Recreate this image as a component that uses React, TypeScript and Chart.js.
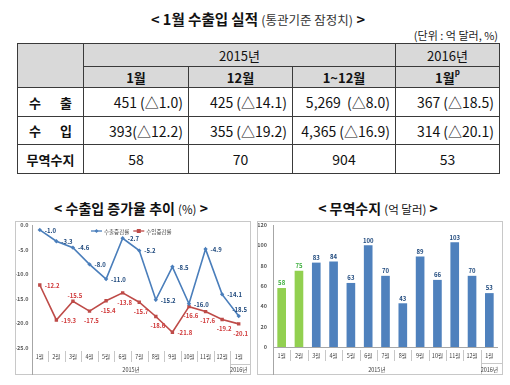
import React, { useEffect, useRef } from 'react';
import { Chart, registerables } from 'chart.js';

Chart.register(...registerables);

const FONT = '"Noto Sans CJK KR", "Noto Sans", sans-serif';

// ---------- table text ----------
const tableTitleBold = '1월 수출입 실적';
const tableTitleNote = '(통관기준 잠정치)';
const unitNote = '(단위 : 억 달러, %)';
const yearHeaders = ['2015년', '2016년'];
const periodHeaders = ['1월', '12월', '1~12월', '1월'];
const rowLabels = ['수출', '수입', '무역수지'];
const exportCells = ['451 (△1.0)', '425 (△14.1)', '5,269  (△8.0)', '367 (△18.5)'];
const importCells = ['393(△12.2)', '355 (△19.2)', '4,365 (△16.9)', '314 (△20.1)'];
const balanceCells = ['58', '70', '904', '53'];

// ---------- chart data ----------
const monthLabels = ['1월', '2월', '3월', '4월', '5월', '6월', '7월', '8월', '9월', '10월', '11월', '12월', '1월'];
const yearGroups = ['2015년', '2016년'];
const yearSpans = [12, 1];
const seriesNames = ['수출증감률', '수입증감률'];
const exportGrowth = [-1.0, -3.3, -4.6, -8.0, -11.0, -2.7, -5.2, -15.2, -8.5, -16.0, -4.9, -14.1, -18.5];
const importGrowth = [-12.2, -19.3, -15.5, -17.5, -15.4, -13.8, -15.7, -18.6, -21.8, -16.6, -17.6, -19.2, -20.1];
const growthMin = -25;
const growthMax = 0;
const growthStep = 5;
const tradeBalance = [58, 75, 83, 84, 63, 100, 70, 43, 89, 66, 103, 70, 53];
const balanceMin = 0;
const balanceMax = 120;
const balanceStep = 20;

// label placement (style, not data)
const exportLabelSide = ['r', 'r', 'r', 'r', 'r', 'r', 'r', 'r', 'r', 'r', 'r', 'r', 'ur'];
const importLabelSide = ['r', 'r', 'a', 'b', 'b', 'b', 'b', 'b', 'r', 'b', 'b', 'b', 'b'];

const EXPORT_COLOR = '#4A7EBB';
const IMPORT_COLOR = '#BE4B48';
const EXPORT_LABEL = '#1F497D';
const IMPORT_LABEL = '#D0393A';
const BAR_BLUE = '#4F81BD';
const BAR_GREEN = '#92D050';
const FRAME = '#C8C8C8';
const AXIS = '#A6A6A6';
const HEADER_BG = '#D9D9D9';
const GRID_LINE = '#3A3A3A';

function drawCategoryDecor(chart: any, drawZeroLine: boolean) {
  const { ctx, chartArea, scales } = chart;
  const x = scales.x;
  const W = chart.width;
  const H = chart.height;
  ctx.save();
  ctx.lineWidth = 1;
  ctx.strokeStyle = FRAME;
  ctx.strokeRect(0.5, 0.5, W - 1, H - 1);
  ctx.strokeStyle = AXIS;
  const ax = Math.round(chartArea.left) + 0.5;
  ctx.beginPath();
  ctx.moveTo(ax, chartArea.top);
  ctx.lineTo(ax, H);
  ctx.stroke();
  if (drawZeroLine) {
    const zy = Math.round(chartArea.bottom) + 0.5;
    ctx.beginPath();
    ctx.moveTo(chartArea.left, zy);
    ctx.lineTo(chartArea.right, zy);
    ctx.stroke();
  }
  const n = monthLabels.length;
  const groupEnds: number[] = [];
  let acc = 0;
  yearSpans.forEach((s) => { acc += s; groupEnds.push(acc); });
  ctx.strokeStyle = '#C8C8C8';
  for (let i = 1; i < n; i++) {
    const bx = Math.round((x.getPixelForValue(i - 1) + x.getPixelForValue(i)) / 2) + 0.5;
    const isGroup = groupEnds.includes(i);
    ctx.beginPath();
    ctx.moveTo(bx, chartArea.bottom + 3);
    ctx.lineTo(bx, isGroup ? H : chartArea.bottom + 14);
    ctx.stroke();
    if (isGroup) {
      ctx.beginPath();
      ctx.moveTo(bx, chartArea.bottom + 16.5);
      ctx.lineTo(W, chartArea.bottom + 16.5);
      ctx.stroke();
    }
  }
  ctx.fillStyle = '#404040';
  ctx.font = `5.5px ${FONT}`;
  ctx.textAlign = 'center';
  ctx.textBaseline = 'middle';
  let start = 0;
  yearGroups.forEach((g, gi) => {
    const end = start + yearSpans[gi] - 1;
    const cx = (x.getPixelForValue(start) + x.getPixelForValue(end)) / 2;
    ctx.fillText(g, cx, H - 5);
    start = end + 1;
  });
  ctx.restore();
}

const lineDecor = {
  id: 'lineDecor',
  afterDraw(chart: any) {
    drawCategoryDecor(chart, false);
    const { ctx } = chart;
    ctx.save();
    ctx.font = `bold 6px ${FONT}`;
    ctx.textBaseline = 'middle';
    const sides = [exportLabelSide, importLabelSide];
    const colors = [EXPORT_LABEL, IMPORT_LABEL];
    chart.data.datasets.forEach((ds: any, di: number) => {
      const meta = chart.getDatasetMeta(di);
      ctx.fillStyle = colors[di];
      meta.data.forEach((pt: any, i: number) => {
        const txt = Number(ds.data[i]).toFixed(1);
        const side = sides[di][i];
        if (side === 'r') {
          ctx.textAlign = 'left';
          ctx.fillText(txt, pt.x + 5, pt.y + 0.5);
        } else if (side === 'ur') {
          ctx.textAlign = 'center';
          ctx.fillText(txt, pt.x + 1, pt.y - 6);
        } else if (side === 'a') {
          ctx.textAlign = 'center';
          ctx.fillText(txt, pt.x + 2, pt.y - 5.5);
        } else {
          ctx.textAlign = 'center';
          ctx.fillText(txt, pt.x + 2, pt.y + 9.5);
        }
      });
    });
    const items = [
      { name: seriesNames[0], color: EXPORT_COLOR, style: 'diamond' },
      { name: seriesNames[1], color: IMPORT_COLOR, style: 'square' },
    ];
    let lx = 76;
    const ly = 10;
    ctx.font = `5.5px ${FONT}`;
    ctx.textAlign = 'left';
    items.forEach((it) => {
      ctx.strokeStyle = it.color;
      ctx.fillStyle = it.color;
      ctx.lineWidth = 1.3;
      ctx.beginPath();
      ctx.moveTo(lx, ly);
      ctx.lineTo(lx + 11, ly);
      ctx.stroke();
      const mx = lx + 5.5;
      if (it.style === 'diamond') {
        ctx.beginPath();
        ctx.moveTo(mx, ly - 2);
        ctx.lineTo(mx + 2, ly);
        ctx.lineTo(mx, ly + 2);
        ctx.lineTo(mx - 2, ly);
        ctx.closePath();
        ctx.fill();
      } else {
        ctx.fillRect(mx - 2, ly - 2, 4, 4);
      }
      ctx.fillStyle = '#404040';
      ctx.fillText(it.name, lx + 13, ly + 0.5);
      lx += 13 + ctx.measureText(it.name).width + 4;
    });
    ctx.restore();
  },
};

const barDecor = {
  id: 'barDecor',
  afterDraw(chart: any) {
    drawCategoryDecor(chart, true);
    const { ctx } = chart;
    ctx.save();
    ctx.font = `bold 6px ${FONT}`;
    ctx.textAlign = 'center';
    ctx.textBaseline = 'middle';
    const meta = chart.getDatasetMeta(0);
    meta.data.forEach((bar: any, i: number) => {
      ctx.fillStyle = i < 2 ? '#3FB03F' : EXPORT_LABEL;
      ctx.fillText(String(tradeBalance[i]), bar.x, bar.y - 5);
    });
    ctx.restore();
  },
};

function Cell(props: {
  x0: number; x1: number; y0: number; y1: number; bg?: string; align?: string;
  bold?: boolean; size?: number; children?: any; pr?: number; ls?: number;
}) {
  const { x0, x1, y0, y1, bg, align, bold, size, children, pr, ls } = props;
  return (
    <div
      style={{
        position: 'absolute', left: x0, top: y0, width: x1 - x0 + 1, height: y1 - y0 + 1,
        boxSizing: 'border-box', border: `1px solid ${GRID_LINE}`, background: bg || '#fff',
        display: 'flex', alignItems: 'center',
        justifyContent: align === 'right' ? 'flex-end' : 'center',
        paddingRight: pr || 0, fontSize: size || 14, fontWeight: bold ? 700 : 400,
        whiteSpace: 'pre', color: '#111', letterSpacing: ls ? ls : 0,
        paddingLeft: ls ? ls : 0, lineHeight: 1,
      }}
    >
      {children}
    </div>
  );
}

export default function App() {
  const leftRef = useRef<HTMLCanvasElement>(null);
  const rightRef = useRef<HTMLCanvasElement>(null);

  useEffect(() => {
    const tickFont = { size: 5.5, family: FONT };
    const left = new Chart(leftRef.current as HTMLCanvasElement, {
      type: 'line',
      data: {
        labels: monthLabels,
        datasets: [
          {
            label: seriesNames[0], data: exportGrowth, borderColor: EXPORT_COLOR,
            backgroundColor: EXPORT_COLOR, borderWidth: 1.6, pointStyle: 'rectRot',
            pointRadius: 2.2, pointBorderWidth: 0, tension: 0,
          },
          {
            label: seriesNames[1], data: importGrowth, borderColor: IMPORT_COLOR,
            backgroundColor: IMPORT_COLOR, borderWidth: 1.6, pointStyle: 'rect',
            pointRadius: 2.4, pointBorderWidth: 0, tension: 0,
          },
        ],
      },
      options: {
        animation: false,
        responsive: false,
        layout: { padding: { top: 4, right: 0, bottom: 0, left: 0 } },
        plugins: { legend: { display: false }, tooltip: { enabled: false } },
        scales: {
          x: {
            offset: true,
            grid: { display: false, drawTicks: false },
            border: { display: false },
            ticks: { font: tickFont, color: '#404040', padding: 6, maxRotation: 0, autoSkip: false },
            afterFit: (s: any) => { s.height = 27; s.paddingLeft = 0; s.paddingRight = 0; },
          },
          y: {
            min: growthMin, max: growthMax,
            grid: { display: false, drawTicks: false },
            border: { display: false },
            ticks: {
              stepSize: growthStep, font: { ...tickFont, weight: 'bold' }, color: '#595959', padding: 3,
              callback: (v: any) => Number(v).toFixed(1),
            },
            afterFit: (s: any) => { s.width = 16.5; s.paddingTop = 0; s.paddingBottom = 0; },
          },
        },
      } as any,
      plugins: [lineDecor],
    });

    const right = new Chart(rightRef.current as HTMLCanvasElement, {
      type: 'bar',
      data: {
        labels: monthLabels,
        datasets: [
          {
            label: '무역수지', data: tradeBalance,
            backgroundColor: tradeBalance.map((_, i) => (i < 2 ? BAR_GREEN : BAR_BLUE)),
            categoryPercentage: 1, barPercentage: 0.5, borderWidth: 0,
          },
        ],
      },
      options: {
        animation: false,
        responsive: false,
        layout: { padding: { top: 4, right: 5, bottom: 0, left: 0 } },
        plugins: { legend: { display: false }, tooltip: { enabled: false } },
        scales: {
          x: {
            grid: { display: false, drawTicks: false },
            border: { display: false },
            ticks: { font: tickFont, color: '#404040', padding: 6, maxRotation: 0, autoSkip: false },
            afterFit: (s: any) => { s.height = 28; s.paddingLeft = 0; s.paddingRight = 0; },
          },
          y: {
            min: balanceMin, max: balanceMax,
            grid: { display: false, drawTicks: false },
            border: { display: false },
            ticks: { stepSize: balanceStep, font: { ...tickFont, weight: 'bold' }, color: '#595959', padding: 6 },
            afterFit: (s: any) => { s.width = 16; s.paddingTop = 0; s.paddingBottom = 0; },
          },
        },
      } as any,
      plugins: [barDecor],
    });

    return () => {
      left.destroy();
      right.destroy();
    };
  }, []);

  const cols = [17, 83, 188, 292, 395, 499];
  const rows = [43, 66, 87, 116, 144, 173];
  const dataRows = [exportCells, importCells, balanceCells];

  return (
    <div
      style={{
        position: 'absolute', left: 0, top: 0, width: 510, height: 385, background: '#fff',
        fontFamily: FONT, overflow: 'hidden', color: '#111',
      }}
    >
      <div style={{ position: 'absolute', left: 0, top: 8, width: 516, textAlign: 'center', lineHeight: '20px', whiteSpace: 'pre' }}>
        <span style={{ fontSize: 14.5, fontWeight: 700 }}>{'< ' + tableTitleBold + ' '}</span>
        <span style={{ fontSize: 12.5, color: '#333' }}>{tableTitleNote}</span>
        <span style={{ fontSize: 14.5, fontWeight: 700 }}>{' >'}</span>
      </div>
      <div style={{ position: 'absolute', right: 12, top: 28, fontSize: 11, lineHeight: '14px', color: '#222', whiteSpace: 'pre' }}>
        {unitNote}
      </div>

      <Cell x0={cols[0]} x1={cols[1]} y0={rows[0]} y1={rows[2]} bg={HEADER_BG} />
      <Cell x0={cols[1]} x1={cols[4]} y0={rows[0]} y1={rows[1]} bg={HEADER_BG} size={13}>{yearHeaders[0]}</Cell>
      <Cell x0={cols[4]} x1={cols[5]} y0={rows[0]} y1={rows[1]} bg={HEADER_BG} size={13}>{yearHeaders[1]}</Cell>
      {periodHeaders.map((p, i) => (
        <Cell key={'p' + i} x0={cols[i + 1]} x1={cols[i + 2]} y0={rows[1]} y1={rows[2]} bg={HEADER_BG} size={13} bold>
          {i === 3 ? (
            <span>{p}<sup style={{ fontSize: 8, verticalAlign: 'top', position: 'relative', top: -3 }}>p</sup></span>
          ) : p}
        </Cell>
      ))}
      {rowLabels.map((r, ri) => (
        <Cell key={'r' + ri} x0={cols[0]} x1={cols[1]} y0={rows[ri + 2]} y1={rows[ri + 3]} size={13} bold ls={r.length === 2 ? 19 : 0}>
          {r}
        </Cell>
      ))}
      {dataRows.map((vals, ri) =>
        vals.map((v, ci) => (
          <Cell
            key={'v' + ri + '-' + ci}
            x0={cols[ci + 1]} x1={cols[ci + 2]} y0={rows[ri + 2]} y1={rows[ri + 3]}
            size={14} align={ri < 2 ? 'right' : 'center'} pr={ri < 2 ? 5 : 0}
          >
            {v}
          </Cell>
        ))
      )}

      <div style={{ position: 'absolute', left: 0, top: 198, width: 262, textAlign: 'center', lineHeight: '18px', whiteSpace: 'pre' }}>
        <span style={{ fontSize: 14, fontWeight: 700 }}>{'< 수출입 증가율 추이 '}</span>
        <span style={{ fontSize: 11.5 }}>(%)</span>
        <span style={{ fontSize: 14, fontWeight: 700 }}>{' >'}</span>
      </div>
      <div style={{ position: 'absolute', left: 256, top: 198, width: 244, textAlign: 'center', lineHeight: '18px', whiteSpace: 'pre' }}>
        <span style={{ fontSize: 14, fontWeight: 700 }}>{'< 무역수지 '}</span>
        <span style={{ fontSize: 11.5 }}>(억 달러)</span>
        <span style={{ fontSize: 14, fontWeight: 700 }}>{' >'}</span>
      </div>

      <canvas
        ref={leftRef}
        width={236}
        height={154}
        style={{ position: 'absolute', left: 15, top: 221, width: 236, height: 154 }}
      />
      <canvas
        ref={rightRef}
        width={246}
        height={154}
        style={{ position: 'absolute', left: 257, top: 221, width: 246, height: 154 }}
      />
    </div>
  );
}
